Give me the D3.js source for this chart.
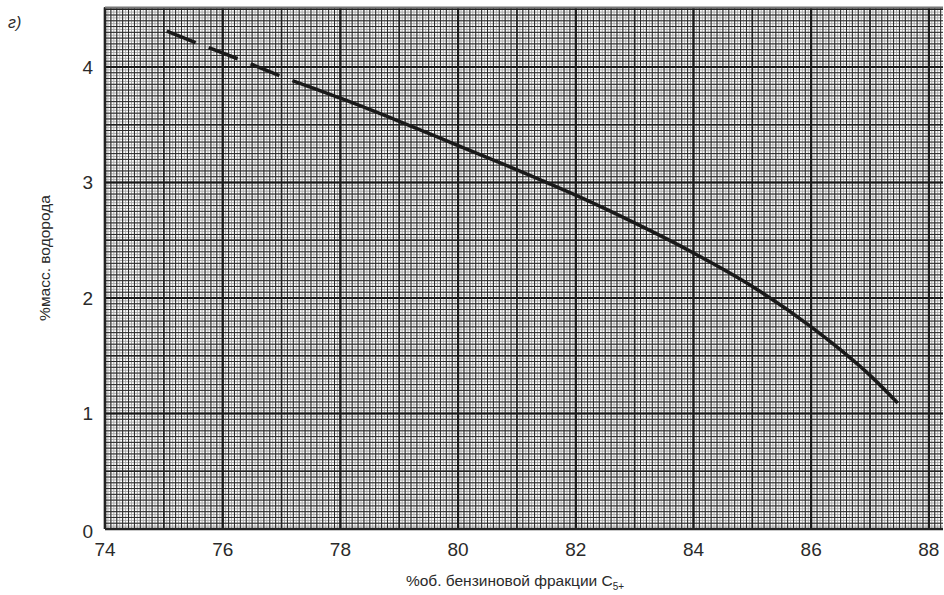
<!DOCTYPE html>
<html>
<head>
<meta charset="utf-8">
<script src="https://cdn.jsdelivr.net/npm/d3@7"></script>
<style>
	body { margin: 0; background: #fff; }
	text { font-family: "Liberation Sans", Arial, sans-serif; fill: #2a2a2a; }
</style>
</head>
<body>
<svg id="plot" width="944" height="595"></svg>
<script>
// x: %об. бензиновой фракции, y: %масс. водорода
const CURVE_X = [75.05, 75.6, 76.26, 76.99, 77.3, 78, 79, 80, 81, 82, 83, 84, 85, 86, 86.5, 87, 87.47];
const CURVE_Y = [4.31, 4.2, 4.07, 3.92, 3.86, 3.73, 3.53, 3.32, 3.11, 2.89, 2.65, 2.39, 2.10, 1.75, 1.55, 1.33, 1.09];
const DASH_END = 77.3; // dashed part of the curve ends here
const X_TICKS = [74, 76, 78, 80, 82, 84, 86, 88];
const Y_TICKS = [0, 1, 2, 3, 4];

const svg = d3.select('#plot');
const x = d3.scaleLinear().domain([74, 88.24]).range([105, 943]);
const y = d3.scaleLinear().domain([0, 4.515]).range([529, 7.5]);

const [x0, x1] = x.domain();
const [y0, y1] = y.domain();
const grid = svg.append('g');

// graph-paper lines: faint half steps, minor, medium, bold
function vlines(step, color, width) {
	grid.append('g').selectAll('line')
		.data(d3.range(x0, x1 + 1e-9, step))
		.enter().append('line')
		.attr('x1', d => x(d)).attr('x2', d => x(d))
		.attr('y1', y(y0)).attr('y2', y(y1))
		.attr('stroke', color).attr('stroke-width', width);
}
function hlines(step, color, width) {
	grid.append('g').selectAll('line')
		.data(d3.range(y0, y1 + 1e-9, step))
		.enter().append('line')
		.attr('y1', d => y(d)).attr('y2', d => y(d))
		.attr('x1', x(x0)).attr('x2', x(x1))
		.attr('stroke', color).attr('stroke-width', width);
}
vlines(0.05, '#aaa', 1);
hlines(0.025, '#aaa', 1);
vlines(0.1, '#2a2a2a', 1);
hlines(0.05, '#2a2a2a', 1);
vlines(1, '#222', 1.6);
hlines(0.5, '#222', 1.6);
vlines(2, '#1a1a1a', 2.2);
hlines(1, '#1a1a1a', 2.2);

// frame
svg.append('line').attr('x1', x(x0)).attr('x2', x(x0)).attr('y1', y(y1)).attr('y2', y(y0))
	.attr('stroke', '#222').attr('stroke-width', 2.5);
svg.append('line').attr('x1', x(x0)).attr('x2', x(x1)).attr('y1', y(y0)).attr('y2', y(y0))
	.attr('stroke', '#222').attr('stroke-width', 2.5);
svg.append('line').attr('x1', x(x0)).attr('x2', x(x1)).attr('y1', y(y1)).attr('y2', y(y1))
	.attr('stroke', '#777').attr('stroke-width', 2);

// curve
const pts = CURVE_X.map((v, i) => ({x: v, y: CURVE_Y[i]}));
const line = d3.line().x(d => x(d.x)).y(d => y(d.y)).curve(d3.curveMonotoneX);
svg.append('path')
	.datum(pts.filter(d => d.x <= DASH_END))
	.attr('d', line)
	.attr('fill', 'none').attr('stroke', '#1a1a1a').attr('stroke-width', 3.5)
	.attr('stroke-dasharray', '31,14');
svg.append('path')
	.datum(pts.filter(d => d.x >= DASH_END))
	.attr('d', line)
	.attr('fill', 'none').attr('stroke', '#1a1a1a').attr('stroke-width', 3.5);

// tick labels
svg.append('g').selectAll('text')
	.data(X_TICKS)
	.enter().append('text')
	.text(d => d)
	.attr('x', d => x(d))
	.attr('y', 556)
	.attr('text-anchor', 'middle')
	.style('font-size', '19px');

svg.append('g').selectAll('text')
	.data(Y_TICKS)
	.enter().append('text')
	.text(d => d)
	.attr('x', 93)
	.attr('y', d => d === 0 ? 538 : y(d) + 7)
	.attr('text-anchor', 'end')
	.style('font-size', '19px');

// titles
svg.append('text')
	.attr('x', 8).attr('y', 28)
	.style('font-size', '16px').style('font-style', 'italic')
	.text('г)');

const xt = svg.append('text')
	.attr('x', 515).attr('y', 586)
	.attr('text-anchor', 'middle')
	.style('font-size', '15.5px');
xt.append('tspan').text('%об. бензиновой фракции С');
xt.append('tspan').text('5+').attr('dy', 4).style('font-size', '10px');

svg.append('text')
	.attr('transform', 'translate(50,258) rotate(-90)')
	.attr('text-anchor', 'middle')
	.style('font-size', '15.5px')
	.text('%масс. водорода');
</script>
</body>
</html>
